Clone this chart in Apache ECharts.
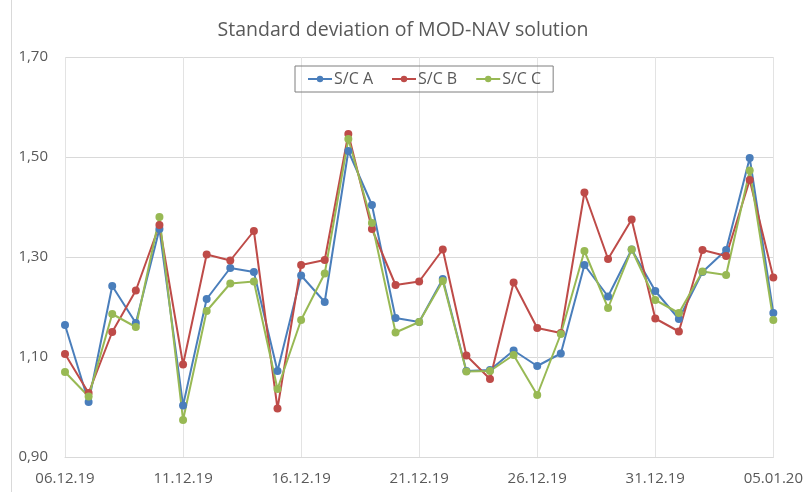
<!DOCTYPE html>
<html>
<head>
<meta charset="utf-8">
<script src="https://cdn.jsdelivr.net/npm/echarts@6/dist/echarts.min.js"></script>
<style>
  html, body { margin: 0; padding: 0; background: #fff; }
  #chart { width: 806px; height: 492px; }
</style>
</head>
<body>
<div id="chart"></div>
<script>
// days 06.12.19 .. 05.01.20
const dates = [
  "06.12.19", "07.12.19", "08.12.19", "09.12.19", "10.12.19",
  "11.12.19", "12.12.19", "13.12.19", "14.12.19", "15.12.19",
  "16.12.19", "17.12.19", "18.12.19", "19.12.19", "20.12.19",
  "21.12.19", "22.12.19", "23.12.19", "24.12.19", "25.12.19",
  "26.12.19", "27.12.19", "28.12.19", "29.12.19", "30.12.19",
  "31.12.19", "01.01.20", "02.01.20", "03.01.20", "04.01.20",
  "05.01.20"
];

const scA = [
  1.164, 1.010, 1.242, 1.168, 1.356, 1.003, 1.216, 1.278, 1.270, 1.072,
  1.263, 1.210, 1.512, 1.404, 1.178, 1.170, 1.256, 1.072, 1.074, 1.113,
  1.082, 1.107, 1.284, 1.221, 1.315, 1.232, 1.176, 1.270, 1.314, 1.498,
  1.188
];

const scB = [
  1.106, 1.028, 1.150, 1.233, 1.364, 1.085, 1.305, 1.293, 1.352, 0.997,
  1.284, 1.294, 1.546, 1.356, 1.244, 1.251, 1.315, 1.103, 1.056, 1.249,
  1.158, 1.148, 1.429, 1.296, 1.375, 1.177, 1.151, 1.314, 1.302, 1.454,
  1.259
];

const scC = [
  1.070, 1.021, 1.186, 1.160, 1.380, 0.974, 1.192, 1.247, 1.251, 1.036,
  1.174, 1.267, 1.536, 1.368, 1.149, 1.170, 1.252, 1.071, 1.072, 1.104,
  1.024, 1.146, 1.312, 1.198, 1.315, 1.214, 1.188, 1.271, 1.264, 1.473,
  1.174
];

const yTicks = { min: 0.9, max: 1.7, step: 0.2 };

const chart = echarts.init(document.getElementById('chart'), null, { renderer: 'canvas' });

const font = "'Open Sans', 'Noto Sans', sans-serif";
const textGray = '#595959';

function line(name, data, color) {
  return {
    name: name,
    type: 'line',
    data: data,
    symbol: 'circle',
    symbolSize: 8,
    lineStyle: { width: 2, color: color },
    itemStyle: { color: color },
    emphasis: { disabled: true }
  };
}

chart.setOption({
  animation: false,
  backgroundColor: '#fff',
  textStyle: { fontFamily: font },
  title: {
    text: 'Standard deviation of MOD-NAV solution',
    left: 'center',
    top: 15,
    textStyle: { fontFamily: font, fontSize: 19.5, fontWeight: 'normal', color: textGray }
  },
  legend: {
    top: 66,
    left: 295,
    padding: [5, 12, 5, 12],
    itemGap: 18,
    itemWidth: 24,
    itemHeight: 8,
    borderColor: '#7f7f7f',
    borderWidth: 1,
    textStyle: { fontFamily: font, fontSize: 16, color: textGray, padding: [0, 0, 0, -3] },
    data: ['S/C A', 'S/C B', 'S/C C']
  },
  grid: { left: 65, right: 27, top: 57, bottom: 35, containLabel: false },
  xAxis: {
    type: 'category',
    data: dates,
    boundaryGap: false,
    axisLine: { show: true, lineStyle: { color: '#d9d9d9', width: 1 } },
    axisTick: { show: false },
    axisLabel: {
      interval: 4,
      margin: 14,
      fontFamily: font,
      fontSize: 15,
      color: textGray
    },
    splitLine: { show: true, interval: 4, lineStyle: { color: '#e3e3e3', width: 1 } }
  },
  yAxis: {
    type: 'value',
    min: yTicks.min,
    max: yTicks.max,
    interval: yTicks.step,
    axisLine: { show: false },
    axisTick: { show: false },
    axisLabel: {
      margin: 17,
      fontFamily: font,
      fontSize: 15,
      color: textGray,
      formatter: v => v.toFixed(2).replace('.', ',')
    },
    splitLine: { lineStyle: { color: '#d9d9d9', width: 1 } }
  },
  graphic: [
    { type: 'line', shape: { x1: 11.5, y1: 0, x2: 11.5, y2: 492 }, style: { stroke: '#d9d9d9', lineWidth: 1 } },
    { type: 'line', shape: { x1: 65.5, y1: 57, x2: 65.5, y2: 457 }, style: { stroke: '#d9d9d9', lineWidth: 1 } }
  ],
  series: [
    line('S/C A', scA, '#4a7ebb'),
    line('S/C B', scB, '#be4b48'),
    line('S/C C', scC, '#98b954')
  ]
});
</script>
</body>
</html>
